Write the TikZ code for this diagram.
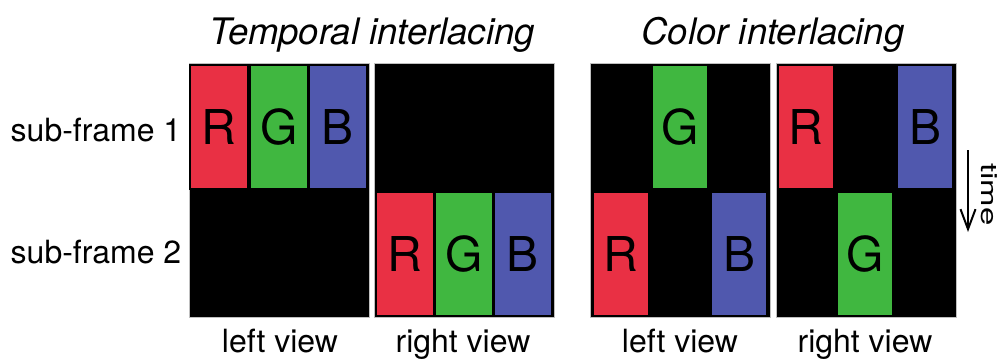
\documentclass[tikz,border=0pt]{standalone}
\usepackage{fontspec}
\setmainfont{TeX Gyre Heros}
\usetikzlibrary{arrows.meta}
\definecolor{cR}{RGB}{233,48,68}
\definecolor{cG}{RGB}{64,183,64}
\definecolor{cB}{RGB}{80,88,174}
\begin{document}
\begin{tikzpicture}[x=1pt,y=-1pt,
  blockbox/.style={draw=gray!50,line width=0.8pt,fill=black,rectangle,minimum width=180pt,minimum height=254pt,inner sep=0pt,anchor=north west},
  strip/.style={draw=black,line width=1.5pt,rectangle,minimum width=58pt,minimum height=124pt,inner sep=0pt,font=\fontsize{48}{48}\selectfont},
  lbl/.style={font=\fontsize{32}{38}\selectfont,anchor=base,inner sep=0pt},
  ttl/.style={font=\itshape\fontsize{36.5}{42}\selectfont,anchor=base,inner sep=0pt}]
\useasboundingbox (0,0) rectangle (998,360);
% blocks
\node[blockbox] (tl) at (189,63) {};
\node[blockbox] (tr) at (374,63) {};
\node[blockbox] (cl) at (590,63) {};
\node[blockbox] (cr) at (776,63) {};
% temporal left, sub-frame 1
\node[strip,fill=cR] (tlR) at (219,127) {R};
\node[strip,fill=cG] (tlG) at (279,127) {G};
\node[strip,fill=cB] (tlB) at (338,127) {B};
% temporal right, sub-frame 2
\node[strip,fill=cR] (trR) at (405,254) {R};
\node[strip,fill=cG] (trG) at (464,254) {G};
\node[strip,fill=cB] (trB) at (523,254) {B};
% color left
\node[strip,fill=cG,minimum width=56pt] (clG) at (680,127) {G};
\node[strip,fill=cR,minimum width=56pt] (clR) at (621,254) {R};
\node[strip,fill=cB,minimum width=56pt] (clB) at (739,254) {B};
% color right
\node[strip,fill=cR,minimum width=56pt] (crR) at (806,127) {R};
\node[strip,fill=cB,minimum width=56pt] (crB) at (925,127) {B};
\node[strip,fill=cG,minimum width=56pt] (crG) at (865,254) {G};
% titles
\node[ttl] (t1) at (372,44) {Temporal interlacing};
\node[ttl] (t2) at (773,44) {Color interlacing};
% row labels
\node[lbl] (s1) at (96,141) {sub-frame 1};
\node[lbl] (s2) at (96,263) {sub-frame 2};
% column labels
\node[lbl] (v1) at (280,352) {left view};
\node[lbl] (v2) at (463,352) {right view};
\node[lbl] (v3) at (680,352) {left view};
\node[lbl] (v4) at (865,352) {right view};
% time arrow
\coordinate (ta) at (968,150);
\coordinate (tb) at (968,232);
\draw[line width=2pt,-{Straight Barb[length=20pt,width=15pt,line width=2pt]}] (ta) -- (tb);
\node[font=\fontsize{33}{38}\selectfont,rotate=-90,anchor=base west,inner sep=0pt] (tm) at (981,163) {\scalebox{1}[0.68]{time}};
\end{tikzpicture}
\end{document}
